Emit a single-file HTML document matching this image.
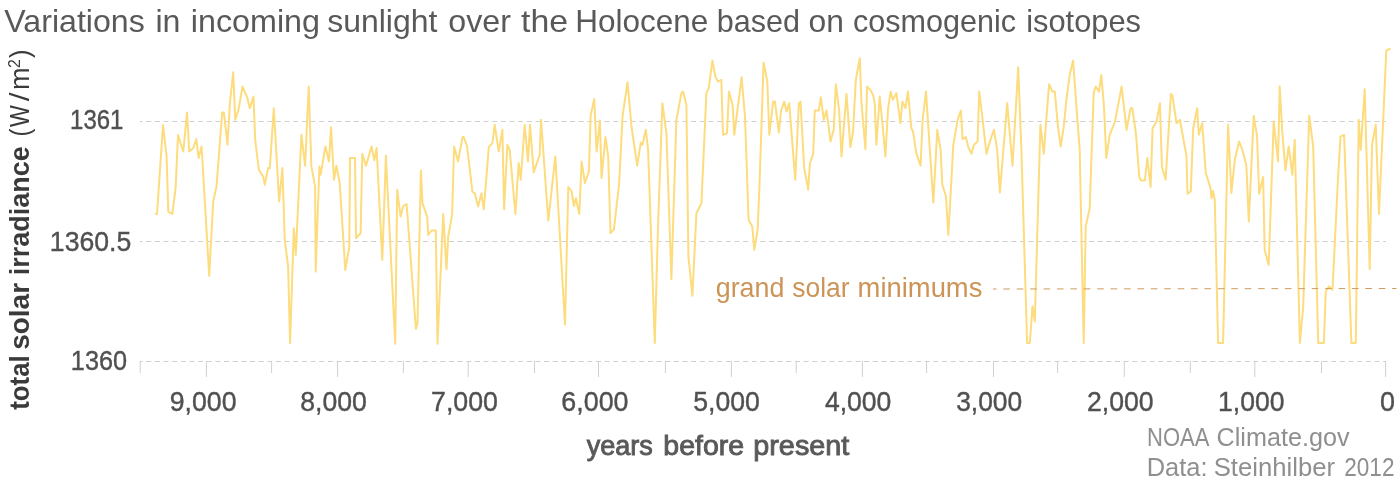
<!DOCTYPE html>
<html><head><meta charset="utf-8"><style>html,body{margin:0;padding:0;background:#fff;}svg{display:block}</style></head>
<body><svg width="1400" height="481" viewBox="0 0 1400 481">
<rect width="1400" height="481" fill="#fff"/>
<line x1="140" y1="121.5" x2="1386" y2="121.5" stroke="#d0d0d0" stroke-width="1" stroke-dasharray="5 3.65" stroke-dashoffset="2.45"/>
<line x1="140" y1="241.5" x2="1386" y2="241.5" stroke="#d0d0d0" stroke-width="1" stroke-dasharray="5 3.65" stroke-dashoffset="2.45"/>
<line x1="140" y1="361.5" x2="1386" y2="361.5" stroke="#d0d0d0" stroke-width="1" stroke-dasharray="5 3.65" stroke-dashoffset="2.45"/>
<line x1="1385.6" y1="361" x2="1385.6" y2="377" stroke="#d0d0d0" stroke-width="1"/>
<line x1="1321.5" y1="361" x2="1321.5" y2="373" stroke="#d0d0d0" stroke-width="1"/>
<line x1="1254.8" y1="361" x2="1254.8" y2="377" stroke="#d0d0d0" stroke-width="1"/>
<line x1="1190.3" y1="361" x2="1190.3" y2="373" stroke="#d0d0d0" stroke-width="1"/>
<line x1="1124.3" y1="361" x2="1124.3" y2="377" stroke="#d0d0d0" stroke-width="1"/>
<line x1="1057.6" y1="361" x2="1057.6" y2="373" stroke="#d0d0d0" stroke-width="1"/>
<line x1="993.5" y1="361" x2="993.5" y2="377" stroke="#d0d0d0" stroke-width="1"/>
<line x1="926.6" y1="361" x2="926.6" y2="373" stroke="#d0d0d0" stroke-width="1"/>
<line x1="862.4" y1="361" x2="862.4" y2="377" stroke="#d0d0d0" stroke-width="1"/>
<line x1="796.2" y1="361" x2="796.2" y2="373" stroke="#d0d0d0" stroke-width="1"/>
<line x1="731.4" y1="361" x2="731.4" y2="377" stroke="#d0d0d0" stroke-width="1"/>
<line x1="665.4" y1="361" x2="665.4" y2="373" stroke="#d0d0d0" stroke-width="1"/>
<line x1="598.5" y1="361" x2="598.5" y2="377" stroke="#d0d0d0" stroke-width="1"/>
<line x1="534.5" y1="361" x2="534.5" y2="373" stroke="#d0d0d0" stroke-width="1"/>
<line x1="468.2" y1="361" x2="468.2" y2="377" stroke="#d0d0d0" stroke-width="1"/>
<line x1="403.4" y1="361" x2="403.4" y2="373" stroke="#d0d0d0" stroke-width="1"/>
<line x1="337.6" y1="361" x2="337.6" y2="377" stroke="#d0d0d0" stroke-width="1"/>
<line x1="271.6" y1="361" x2="271.6" y2="373" stroke="#d0d0d0" stroke-width="1"/>
<line x1="206.4" y1="361" x2="206.4" y2="377" stroke="#d0d0d0" stroke-width="1"/>
<line x1="140.2" y1="361" x2="140.2" y2="373" stroke="#d0d0d0" stroke-width="1"/>
<polyline points="155.0,214.0 157.0,214.0 163.0,125.0 166.6,156.5 168.3,211.6 172.3,214.0 175.6,188.0 178.0,135.0 183.3,151.5 187.0,112.5 189.3,151.5 193.3,148.0 196.3,139.0 198.6,158.0 201.6,146.5 209.2,275.8 213.2,201.6 216.5,186.4 222.2,112.5 223.9,112.5 227.5,144.8 229.9,103.2 233.2,72.3 235.2,119.8 238.5,109.9 242.5,86.6 247.5,98.2 249.8,108.2 253.5,96.6 255.2,139.8 258.8,169.7 263.1,176.4 264.8,184.7 268.1,168.1 269.8,168.1 273.8,108.2 279.1,201.6 282.4,168.1 284.8,240.0 288.1,266.5 290.1,343.0 293.8,228.3 295.8,254.9 301.4,134.8 305.1,165.7 308.7,86.6 311.4,166.4 315.1,186.4 315.7,271.5 319.4,166.4 320.7,174.7 325.4,146.5 329.0,161.4 331.0,127.2 334.0,179.7 336.4,165.7 339.7,183.0 345.3,270.0 349.3,246.6 350.0,158.1 355.0,158.1 356.0,238.2 360.6,233.3 362.3,153.8 366.0,165.7 371.6,146.5 374.3,160.4 376.6,148.1 382.3,259.9 385.9,155.8 395.2,343.7 397.2,189.7 400.6,216.6 403.2,206.0 406.6,204.0 415.9,329.0 417.5,323.0 420.9,170.4 422.5,203.3 427.2,216.6 428.2,234.9 431.5,230.6 435.8,230.6 437.5,343.7 443.2,214.0 446.5,269.2 448.2,236.6 452.1,215.0 454.1,146.5 458.1,161.4 462.5,137.1 463.8,137.1 467.1,146.5 472.4,191.7 474.8,193.3 478.1,206.6 481.4,193.3 483.8,209.3 488.8,147.1 492.4,143.1 494.7,124.8 498.7,151.4 502.4,129.8 504.1,209.3 507.4,144.8 509.7,149.8 515.4,214.0 518.7,163.1 520.7,179.7 524.7,124.8 528.0,161.4 530.0,124.8 533.7,172.4 539.7,154.8 541.0,119.8 548.3,220.6 555.3,156.4 565.0,324.7 568.3,187.0 571.6,191.4 573.9,206.0 575.9,198.3 579.3,214.0 581.6,161.4 584.9,183.0 588.9,171.4 590.6,115.9 594.2,98.9 596.6,151.4 599.9,120.5 601.5,178.0 605.5,137.1 608.2,156.4 610.5,233.2 613.9,229.3 619.2,183.0 622.5,116.5 627.5,82.2 631.5,126.5 637.2,165.7 640.8,142.5 642.5,144.8 645.8,129.8 648.1,149.8 654.8,343.0 658.1,223.3 662.4,103.2 666.4,133.1 671.4,279.2 676.4,119.8 681.4,93.2 683.1,91.6 686.4,104.9 688.4,256.5 692.4,295.8 696.4,213.3 701.4,203.3 706.4,93.2 708.7,88.2 712.4,60.6 715.4,76.6 718.0,81.6 721.3,79.9 723.0,134.8 727.0,133.1 729.0,91.6 732.6,104.9 734.3,134.8 741.6,77.3 745.0,116.5 748.6,220.0 752.3,226.6 754.3,249.9 757.6,230.0 759.3,190.0 763.6,62.6 767.3,81.6 769.3,134.8 773.2,101.6 774.9,101.6 778.9,132.5 780.9,111.5 784.2,101.6 786.6,111.5 789.2,103.2 795.2,179.7 798.9,103.2 800.5,101.6 804.2,168.1 808.2,189.7 809.9,163.1 813.2,153.8 814.8,110.5 818.8,110.5 820.8,97.2 823.8,119.8 826.5,110.5 830.5,141.5 833.8,129.2 835.8,84.2 839.1,109.9 841.5,156.4 846.5,93.9 850.4,147.1 853.1,131.5 855.8,79.9 859.8,58.3 861.4,101.6 865.4,149.1 867.1,86.6 870.4,89.9 873.1,94.9 874.7,103.2 876.4,144.8 879.7,96.6 882.4,123.2 885.4,156.4 888.1,108.2 890.7,91.6 893.0,99.9 896.4,93.2 900.4,123.2 902.4,101.6 905.4,108.2 908.0,91.6 911.3,128.2 913.0,131.5 916.3,153.1 920.6,165.7 922.6,119.8 926.0,91.6 933.3,202.6 937.3,129.8 940.6,149.8 942.3,184.7 946.0,196.4 948.3,235.0 950.3,200.0 953.3,144.8 957.6,119.8 960.9,110.5 962.6,139.1 965.9,137.1 968.2,147.1 971.6,153.8 973.9,144.8 977.6,141.5 979.2,91.6 982.5,118.2 986.5,153.8 989.9,141.5 993.9,129.8 997.2,149.8 999.9,192.4 1007.2,103.2 1012.5,165.7 1018.2,67.3 1021.5,153.1 1027.1,343.0 1029.8,343.0 1032.5,306.4 1034.8,321.4 1040.4,124.8 1043.8,153.8 1046.4,118.2 1049.1,84.2 1052.4,91.6 1054.8,91.6 1058.1,128.2 1060.7,146.5 1063.7,127.2 1066.4,99.9 1069.7,74.9 1073.1,60.6 1076.4,106.5 1079.7,149.8 1083.7,343.0 1085.7,226.6 1089.7,208.3 1093.7,92.6 1095.7,86.6 1099.0,91.6 1101.3,74.9 1104.0,106.5 1106.3,158.1 1109.7,134.8 1115.0,121.5 1121.6,86.6 1126.6,129.8 1130.6,108.2 1132.3,108.2 1135.9,133.1 1139.3,177.0 1140.9,180.4 1144.9,180.4 1147.3,158.1 1150.6,187.0 1152.6,128.2 1156.6,121.5 1159.9,103.2 1161.9,166.4 1165.6,179.7 1170.9,93.9 1172.5,95.9 1176.5,123.2 1179.9,119.8 1186.5,156.4 1187.5,193.7 1190.8,191.4 1193.2,128.2 1197.2,108.2 1198.8,134.8 1202.2,123.2 1205.8,173.1 1210.5,188.0 1211.5,198.3 1213.0,191.0 1214.8,200.0 1218.1,343.0 1223.1,343.0 1228.1,124.8 1231.4,193.0 1234.8,159.8 1239.1,141.5 1242.4,149.8 1246.4,165.7 1248.8,221.6 1253.7,115.9 1257.1,136.5 1259.1,193.7 1263.1,177.0 1264.7,249.9 1268.7,264.9 1273.7,121.5 1278.0,161.4 1279.7,86.6 1282.4,133.1 1285.4,170.4 1288.7,146.5 1292.3,174.7 1294.7,139.8 1299.9,343.0 1303.2,306.4 1309.2,115.8 1313.2,146.4 1318.2,343.0 1323.8,343.0 1325.8,291.4 1329.1,286.4 1332.5,289.8 1338.1,176.3 1340.5,136.4 1344.1,134.8 1351.4,343.0 1355.8,343.0 1358.7,119.8 1360.7,149.7 1364.7,89.2 1369.7,269.1 1372.0,144.7 1375.7,124.8 1379.0,214.0 1386.3,50.6 1390.7,48.3" fill="none" stroke="#fddc7e" stroke-width="2" stroke-linejoin="round"/>
<line x1="993" y1="289" x2="1396.5" y2="288.5" stroke="#d09a5f" stroke-width="1" stroke-dasharray="6.6 6.81" stroke-dashoffset="3.1"/>
<text x="4.3" y="32" font-family="'Liberation Sans', sans-serif" font-size="31.6" font-weight="normal" fill="#595959" textLength="140.48" lengthAdjust="spacingAndGlyphs">Variations</text>
<text x="155.46" y="32" font-family="'Liberation Sans', sans-serif" font-size="31.6" font-weight="normal" fill="#595959" textLength="25.06" lengthAdjust="spacingAndGlyphs">in</text>
<text x="190.76" y="32" font-family="'Liberation Sans', sans-serif" font-size="31.6" font-weight="normal" fill="#595959" textLength="129.24" lengthAdjust="spacingAndGlyphs">incoming</text>
<text x="327.19" y="32" font-family="'Liberation Sans', sans-serif" font-size="31.6" font-weight="normal" fill="#595959" textLength="110.22" lengthAdjust="spacingAndGlyphs">sunlight</text>
<text x="448.28" y="32" font-family="'Liberation Sans', sans-serif" font-size="31.6" font-weight="normal" fill="#595959" textLength="62.6" lengthAdjust="spacingAndGlyphs">over</text>
<text x="521.0" y="32" font-family="'Liberation Sans', sans-serif" font-size="31.6" font-weight="normal" fill="#595959" textLength="47.06" lengthAdjust="spacingAndGlyphs">the</text>
<text x="575.21" y="32" font-family="'Liberation Sans', sans-serif" font-size="31.6" font-weight="normal" fill="#595959" textLength="133.09" lengthAdjust="spacingAndGlyphs">Holocene</text>
<text x="716.67" y="32" font-family="'Liberation Sans', sans-serif" font-size="31.6" font-weight="normal" fill="#595959" textLength="83.26" lengthAdjust="spacingAndGlyphs">based</text>
<text x="808.59" y="32" font-family="'Liberation Sans', sans-serif" font-size="31.6" font-weight="normal" fill="#595959" textLength="35.38" lengthAdjust="spacingAndGlyphs">on</text>
<text x="852.93" y="32" font-family="'Liberation Sans', sans-serif" font-size="31.6" font-weight="normal" fill="#595959" textLength="163.21" lengthAdjust="spacingAndGlyphs">cosmogenic</text>
<text x="1026.15" y="32" font-family="'Liberation Sans', sans-serif" font-size="31.6" font-weight="normal" fill="#595959" textLength="114.92" lengthAdjust="spacingAndGlyphs">isotopes</text>
<text x="70.06" y="129" font-family="'Liberation Sans', sans-serif" font-size="27.5" font-weight="normal" fill="#505050" stroke="#505050" stroke-width="0.4" textLength="53.38" lengthAdjust="spacingAndGlyphs">1361</text>
<text x="49.86" y="250.8" font-family="'Liberation Sans', sans-serif" font-size="27.5" font-weight="normal" fill="#505050" stroke="#505050" stroke-width="0.4" textLength="81.42" lengthAdjust="spacingAndGlyphs">1360.5</text>
<text x="70.86" y="370" font-family="'Liberation Sans', sans-serif" font-size="27.5" font-weight="normal" fill="#505050" stroke="#505050" stroke-width="0.4" textLength="56.21" lengthAdjust="spacingAndGlyphs">1360</text>
<text x="169.73" y="411" font-family="'Liberation Sans', sans-serif" font-size="27.5" font-weight="normal" fill="#505050" stroke="#505050" stroke-width="0.4" textLength="66.77" lengthAdjust="spacingAndGlyphs">9,000</text>
<text x="300.23" y="411" font-family="'Liberation Sans', sans-serif" font-size="27.5" font-weight="normal" fill="#505050" stroke="#505050" stroke-width="0.4" textLength="66.57" lengthAdjust="spacingAndGlyphs">8,000</text>
<text x="431.03" y="411" font-family="'Liberation Sans', sans-serif" font-size="27.5" font-weight="normal" fill="#505050" stroke="#505050" stroke-width="0.4" textLength="66.98" lengthAdjust="spacingAndGlyphs">7,000</text>
<text x="561.32" y="411" font-family="'Liberation Sans', sans-serif" font-size="27.5" font-weight="normal" fill="#505050" stroke="#505050" stroke-width="0.4" textLength="67.18" lengthAdjust="spacingAndGlyphs">6,000</text>
<text x="693.33" y="411" font-family="'Liberation Sans', sans-serif" font-size="27.5" font-weight="normal" fill="#505050" stroke="#505050" stroke-width="0.4" textLength="66.57" lengthAdjust="spacingAndGlyphs">5,000</text>
<text x="824.9" y="411" font-family="'Liberation Sans', sans-serif" font-size="27.5" font-weight="normal" fill="#505050" stroke="#505050" stroke-width="0.4" textLength="66.5" lengthAdjust="spacingAndGlyphs">4,000</text>
<text x="956.14" y="411" font-family="'Liberation Sans', sans-serif" font-size="27.5" font-weight="normal" fill="#505050" stroke="#505050" stroke-width="0.4" textLength="66.05" lengthAdjust="spacingAndGlyphs">3,000</text>
<text x="1087.03" y="411" font-family="'Liberation Sans', sans-serif" font-size="27.5" font-weight="normal" fill="#505050" stroke="#505050" stroke-width="0.4" textLength="66.67" lengthAdjust="spacingAndGlyphs">2,000</text>
<text x="1218.07" y="411" font-family="'Liberation Sans', sans-serif" font-size="27.5" font-weight="normal" fill="#505050" stroke="#505050" stroke-width="0.4" textLength="66.43" lengthAdjust="spacingAndGlyphs">1,000</text>
<text x="1379.92" y="411" font-family="'Liberation Sans', sans-serif" font-size="27.5" font-weight="normal" fill="#505050" stroke="#505050" stroke-width="0.4" textLength="14.97" lengthAdjust="spacingAndGlyphs">0</text>
<text x="586.7" y="454.5" font-family="'Liberation Sans', sans-serif" font-size="28.4" font-weight="normal" fill="#595959" stroke="#595959" stroke-width="0.9" textLength="66.22" lengthAdjust="spacingAndGlyphs">years</text>
<text x="663.3" y="454.5" font-family="'Liberation Sans', sans-serif" font-size="28.4" font-weight="normal" fill="#595959" stroke="#595959" stroke-width="0.9" textLength="80.82" lengthAdjust="spacingAndGlyphs">before</text>
<text x="753.29" y="454.5" font-family="'Liberation Sans', sans-serif" font-size="28.4" font-weight="normal" fill="#595959" stroke="#595959" stroke-width="0.9" textLength="96.01" lengthAdjust="spacingAndGlyphs">present</text>
<text x="715.72" y="297" font-family="'Liberation Sans', sans-serif" font-size="27.5" font-weight="normal" fill="#cd9458" textLength="68.66" lengthAdjust="spacingAndGlyphs">grand</text>
<text x="792.24" y="297" font-family="'Liberation Sans', sans-serif" font-size="27.5" font-weight="normal" fill="#cd9458" textLength="57.25" lengthAdjust="spacingAndGlyphs">solar</text>
<text x="857.61" y="297" font-family="'Liberation Sans', sans-serif" font-size="27.5" font-weight="normal" fill="#cd9458" textLength="124.77" lengthAdjust="spacingAndGlyphs">minimums</text>
<text x="1147.05" y="446" font-family="'Liberation Sans', sans-serif" font-size="25.2" font-weight="normal" fill="#8f8f8f" textLength="62.39" lengthAdjust="spacingAndGlyphs">NOAA</text>
<text x="1216.6" y="446" font-family="'Liberation Sans', sans-serif" font-size="25.2" font-weight="normal" fill="#8f8f8f" textLength="132.9" lengthAdjust="spacingAndGlyphs">Climate.gov</text>
<text x="1146.78" y="475.8" font-family="'Liberation Sans', sans-serif" font-size="25.2" font-weight="normal" fill="#8f8f8f" textLength="60.74" lengthAdjust="spacingAndGlyphs">Data:</text>
<text x="1213.76" y="475.8" font-family="'Liberation Sans', sans-serif" font-size="25.2" font-weight="normal" fill="#8f8f8f" textLength="121.25" lengthAdjust="spacingAndGlyphs">Steinhilber</text>
<text x="1344.31" y="475.8" font-family="'Liberation Sans', sans-serif" font-size="25.2" font-weight="normal" fill="#8f8f8f" textLength="50.13" lengthAdjust="spacingAndGlyphs">2012</text>
<g transform="translate(28.5,410) rotate(-90)"><text x="0.2" y="0" font-family="'Liberation Sans', sans-serif" font-size="27.5" font-weight="bold" fill="#3a3a3a" textLength="54.54" lengthAdjust="spacingAndGlyphs">total</text><text x="60.18" y="0" font-family="'Liberation Sans', sans-serif" font-size="27.5" font-weight="bold" fill="#3a3a3a" textLength="66.86" lengthAdjust="spacingAndGlyphs">solar</text><text x="134.74" y="0" font-family="'Liberation Sans', sans-serif" font-size="27.5" font-weight="bold" fill="#3a3a3a" textLength="128.92" lengthAdjust="spacingAndGlyphs">irradiance</text><text x="273.59" y="0" font-family="'Liberation Sans', sans-serif" font-size="27.5" font-weight="normal" fill="#3a3a3a" textLength="7.86" lengthAdjust="spacingAndGlyphs">(</text><text x="283.1" y="0" font-family="'Liberation Sans', sans-serif" font-size="27.5" font-weight="normal" fill="#3a3a3a" textLength="21.77" lengthAdjust="spacingAndGlyphs">W</text><text x="308.8" y="0" font-family="'Liberation Sans', sans-serif" font-size="27.5" font-weight="normal" fill="#3a3a3a" textLength="8.84" lengthAdjust="spacingAndGlyphs">/</text><text x="319.93" y="0" font-family="'Liberation Sans', sans-serif" font-size="27.5" font-weight="normal" fill="#3a3a3a" textLength="22.56" lengthAdjust="spacingAndGlyphs">m</text><text x="342.01" y="-8.9" font-family="'Liberation Sans', sans-serif" font-size="16" font-weight="normal" fill="#3a3a3a" textLength="8.78" lengthAdjust="spacingAndGlyphs">2</text><text x="352.07" y="0" font-family="'Liberation Sans', sans-serif" font-size="27.5" font-weight="normal" fill="#3a3a3a" textLength="8.56" lengthAdjust="spacingAndGlyphs">)</text></g>
</svg></body></html>
